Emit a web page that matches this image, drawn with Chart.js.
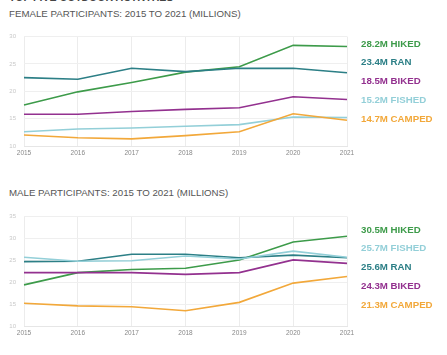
<!DOCTYPE html>
<html>
<head>
<meta charset="utf-8">
<script src="https://cdn.jsdelivr.net/npm/chart.js@4"></script>
<style>
  html, body { margin:0; padding:0; background:#fff; width:447px; height:355px; overflow:hidden; font-family:"Liberation Sans", Arial, sans-serif; }
  .abs { position:absolute; }
  .title { left:9px; top:-8px; font-size:10.5px; line-height:10.5px; font-weight:bold; color:#444; white-space:nowrap; }
  .sub { left:9px; font-size:9.7px; line-height:9.7px; color:#555; white-space:nowrap; }
  .box { left:0; width:447px; height:140px; }
  .legend { left:361px; font-weight:bold; font-size:9.7px; line-height:18.8px; white-space:nowrap; }
</style>
</head>
<body>
<div class="abs title">TOP FIVE OUTDOOR ACTIVITIES</div>
<div class="abs sub" style="top:9.3px">FEMALE PARTICIPANTS: 2015 TO 2021 (MILLIONS)</div>
<div class="abs box" style="top:25px"><canvas id="c1"></canvas></div>
<div class="abs legend" id="l1" style="top:34.6px"></div>
<div class="abs sub" style="top:187.8px">MALE PARTICIPANTS: 2015 TO 2021 (MILLIONS)</div>
<div class="abs box" style="top:205px"><canvas id="c2"></canvas></div>
<div class="abs legend" id="l2" style="top:220.6px"></div>
<script>
const years = ["2015","2016","2017","2018","2019","2020","2021"];
const activities = ["HIKED","RAN","BIKED","FISHED","CAMPED"];
const colors = ["#3d9b4a","#2c7f86","#93318f","#93cfd8","#f2a83a"];

const femaleHiked  = [17.5, 19.9, 21.6, 23.5, 24.5, 28.4, 28.2];
const femaleRan    = [22.5, 22.2, 24.2, 23.6, 24.2, 24.2, 23.4];
const femaleBiked  = [15.8, 15.8, 16.3, 16.7, 17.0, 19.0, 18.5];
const femaleFished = [12.6, 13.1, 13.3, 13.6, 13.9, 15.3, 15.2];
const femaleCamped = [12.0, 11.5, 11.3, 11.9, 12.6, 15.9, 14.7];

const maleHiked  = [19.4, 22.2, 22.9, 23.2, 25.1, 29.2, 30.5];
const maleRan    = [24.7, 24.8, 26.4, 26.4, 25.6, 26.2, 25.6];
const maleBiked  = [22.2, 22.2, 22.2, 21.8, 22.2, 25.1, 24.3];
const maleFished = [25.7, 24.8, 24.9, 26.0, 25.3, 27.1, 25.7];
const maleCamped = [15.2, 14.6, 14.4, 13.5, 15.4, 19.8, 21.3];

const femaleTicks = [10, 15, 20, 25, 30];
const maleTicks = [10, 15, 20, 25, 30, 35];

const femaleSeries = [femaleHiked, femaleRan, femaleBiked, femaleFished, femaleCamped];
const maleSeries = [maleHiked, maleRan, maleBiked, maleFished, maleCamped];

function makeChart(id, legendId, series, ticks, padTop) {
  const datasets = series.map((d, i) => ({
    label: activities[i], data: d, borderColor: colors[i], backgroundColor: colors[i],
    borderWidth: 1.6, pointRadius: 0, tension: 0, fill: false
  }));
  new Chart(document.getElementById(id), {
    type: 'line',
    data: { labels: years, datasets: datasets.slice().reverse() },
    options: {
      responsive: true, maintainAspectRatio: false, animation: false,
      layout: { padding: { top: padTop, right: 100, left: 0, bottom: 0 } },
      plugins: { legend: { display: false }, tooltip: { enabled: false } },
      scales: {
        x: {
          offset: false,
          grid: { color: '#ececec', lineWidth: 1, drawTicks: false },
          border: { color: '#e6e6e6' },
          ticks: { color: '#888', font: { family: 'Liberation Sans', size: 6.5 }, padding: 3, maxRotation: 0, autoSkip: false },
          afterFit: s => { s.height = 19; }
        },
        y: {
          min: ticks[0], max: ticks[ticks.length - 1],
          afterBuildTicks: s => { s.ticks = ticks.map(v => ({ value: v })); },
          grid: { color: '#efefef', lineWidth: 1, drawTicks: false },
          border: { display: false },
          ticks: { color: '#c8c8c8', font: { family: 'Liberation Sans', size: 6 }, padding: 8 },
          afterFit: s => { s.width = 24; }
        }
      }
    }
  });
  const order = series.map((d, i) => i).sort((a, b) => series[b][6] - series[a][6]);
  const el = document.getElementById(legendId);
  order.forEach(i => {
    const div = document.createElement('div');
    div.style.color = colors[i];
    div.textContent = series[i][6].toFixed(1) + 'M ' + activities[i];
    el.appendChild(div);
  });
}
makeChart('c1', 'l1', femaleSeries, femaleTicks, 6);
makeChart('c2', 'l2', maleSeries, maleTicks, 7.7);
</script>
</body>
</html>
